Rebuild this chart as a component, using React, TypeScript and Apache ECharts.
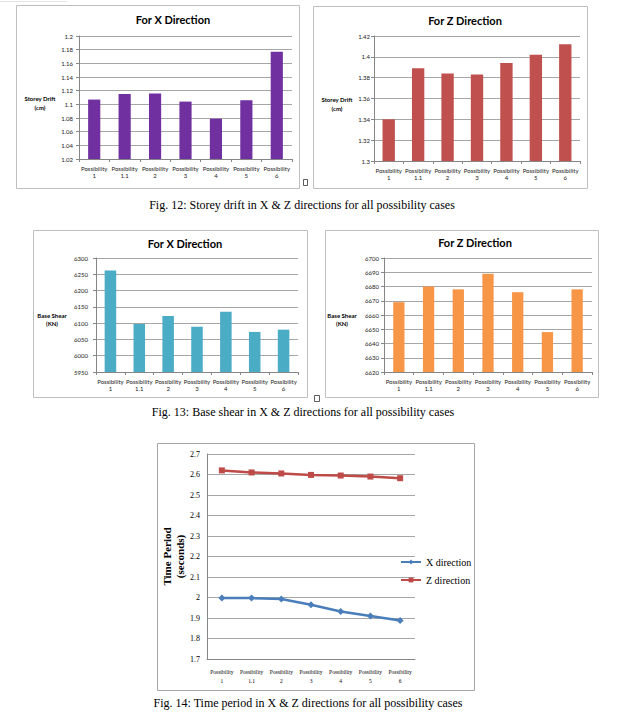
import React, { useEffect, useRef } from "react";
import * as echarts from "echarts";

const categories = [
  "Possibility\n1",
  "Possibility\n1.1",
  "Possibility\n2",
  "Possibility\n3",
  "Possibility\n4",
  "Possibility\n5",
  "Possibility\n6",
];
const driftX = [1.107, 1.115, 1.116, 1.104, 1.079, 1.106, 1.177];
const driftZ = [1.34, 1.389, 1.384, 1.383, 1.394, 1.402, 1.412];
const shearX = [6262, 6097, 6122, 6089, 6135, 6073, 6080];
const shearZ = [6669, 6680, 6678, 6689, 6676, 6648, 6678];
const periodX = [1.997, 1.997, 1.993, 1.965, 1.932, 1.91, 1.888];
const periodZ = [2.62, 2.61, 2.605, 2.598, 2.595, 2.59, 2.582];
const seriesNames = ["X direction", "Z direction"];
const chartTitles = ["For X Direction", "For Z Direction", "For X Direction", "For Z Direction"];
const yNames = ["Storey Drift", "(cm)", "Base Shear", "(KN)"];
const captions = [
  "Fig. 12: Storey drift in X & Z directions for all possibility cases",
  "Fig. 13: Base shear in X & Z directions for all possibility cases",
  "Fig. 14: Time period in X & Z directions for all possibility cases",
];
const timeAxisName = "Time Period\n(seconds)";

const SANS = "Lato, 'Open Sans', sans-serif";
const SERIF = "'Liberation Serif', 'DejaVu Serif', serif";
const GRID_C = "#A6A6A6";
const AXIS_C = "#868686";

const fmt = (v: number) => String(Number(v.toFixed(2)));

function barX(gi: number) {
  return {
    type: "category",
    gridIndex: gi,
    data: categories,
    axisLine: { lineStyle: { color: AXIS_C } },
    axisTick: { show: true, length: 3, lineStyle: { color: AXIS_C } },
    axisLabel: {
      interval: 0,
      fontFamily: SANS,
      fontSize: 6,
      lineHeight: 7,
      color: "#222",
      margin: 6,
    },
  };
}

function barY(gi: number, min: number, max: number, interval: number, margin: number) {
  return {
    type: "value",
    gridIndex: gi,
    min,
    max,
    interval,
    axisLine: { show: true, lineStyle: { color: AXIS_C } },
    axisTick: { show: true, length: 3, lineStyle: { color: AXIS_C } },
    splitLine: { lineStyle: { color: GRID_C } },
    axisLabel: { fontFamily: SANS, fontSize: 6, color: "#222", margin, formatter: fmt },
  };
}

export default function App() {
  const ref = useRef<HTMLDivElement>(null);
  useEffect(() => {
    if (!ref.current) return;
    const chart = echarts.init(ref.current, undefined, { renderer: "svg" });

    const box = (x: number, y: number, w: number, h: number, c = "#BFBFBF") => ({
      type: "rect",
      shape: { x: x + 0.5, y: y + 0.5, width: w, height: h },
      style: { fill: "#fff", stroke: c, lineWidth: 1 },
      z: -10,
    });
    const txt = (
      text: string,
      x: number,
      y: number,
      size: number,
      family: string,
      weight = "normal",
      align = "center"
    ) => ({
      type: "text",
      x,
      y,
      z: 10,
      style: {
        text,
        fontSize: size,
        fontFamily: family,
        fontWeight: weight,
        fill: "#000",
        align,
        verticalAlign: "middle",
      },
    });
    const tofu = (x: number, y: number, w: number, h: number) => ({
      type: "rect",
      shape: { x: x + 0.5, y: y + 0.5, width: w, height: h },
      style: { fill: "none", stroke: "#333", lineWidth: 0.8 },
      z: 10,
    });

    const option = {
      animation: false,
      backgroundColor: "#fff",
      grid: [
        { left: 79, top: 36, width: 213, height: 123 },
        { left: 374, top: 36, width: 206, height: 125 },
        { left: 96, top: 258, width: 202, height: 114 },
        { left: 384, top: 258, width: 208, height: 114 },
        { left: 207, top: 454, width: 208, height: 205 },
      ],
      xAxis: [
        barX(0),
        barX(1),
        barX(2),
        barX(3),
        {
          type: "category",
          gridIndex: 4,
          data: categories,
          axisLine: { lineStyle: { color: AXIS_C } },
          axisTick: { show: false },
          axisLabel: {
            interval: 0,
            fontFamily: SERIF,
            fontSize: 5.5,
            lineHeight: 9,
            color: "#000",
            margin: 8,
          },
        },
      ],
      yAxis: [
        barY(0, 1.02, 1.2, 0.02, 6),
        barY(1, 1.3, 1.42, 0.02, 4),
        barY(2, 5950, 6300, 50, 8),
        barY(3, 6620, 6700, 10, 5),
        {
          type: "value",
          gridIndex: 4,
          min: 1.7,
          max: 2.7,
          interval: 0.1,
          axisLine: { show: true, lineStyle: { color: AXIS_C } },
          axisTick: { show: false },
          splitLine: { lineStyle: { color: GRID_C } },
          axisLabel: { fontFamily: SERIF, fontSize: 8, color: "#000", margin: 7, formatter: fmt },
          name: timeAxisName,
          nameLocation: "middle",
          nameRotate: 90,
          nameGap: 19,
          nameTextStyle: {
            fontFamily: SERIF,
            fontWeight: "bold",
            fontSize: 11,
            lineHeight: 13,
            color: "#000",
          },
        },
      ],
      legend: {
        orient: "vertical",
        left: 395,
        top: 551,
        itemWidth: 20,
        itemHeight: 6,
        itemGap: 6,
        data: seriesNames,
        textStyle: { fontFamily: SERIF, fontSize: 10, color: "#000", lineHeight: 12 },
      },
      series: [
        {
          type: "bar",
          xAxisIndex: 0,
          yAxisIndex: 0,
          data: driftX,
          barWidth: "40%",
          itemStyle: { color: "#7030A0" },
        },
        {
          type: "bar",
          xAxisIndex: 1,
          yAxisIndex: 1,
          data: driftZ,
          barWidth: "42%",
          itemStyle: { color: "#C0504D" },
        },
        {
          type: "bar",
          xAxisIndex: 2,
          yAxisIndex: 2,
          data: shearX,
          barWidth: "40%",
          itemStyle: { color: "#4BACC6" },
        },
        {
          type: "bar",
          xAxisIndex: 3,
          yAxisIndex: 3,
          data: shearZ,
          barWidth: "38%",
          itemStyle: { color: "#F79646" },
        },
        {
          name: seriesNames[0],
          type: "line",
          xAxisIndex: 4,
          yAxisIndex: 4,
          data: periodX,
          symbol: "diamond",
          symbolSize: 7,
          lineStyle: { color: "#4A7EBB", width: 2.5 },
          itemStyle: { color: "#4A7EBB" },
        },
        {
          name: seriesNames[1],
          type: "line",
          xAxisIndex: 4,
          yAxisIndex: 4,
          data: periodZ,
          symbol: "rect",
          symbolSize: 6,
          lineStyle: { color: "#BE4B48", width: 2.5 },
          itemStyle: { color: "#BE4B48" },
        },
      ],
      graphic: [
        {
          type: "line",
          shape: { x1: 0, y1: 1.5, x2: 67, y2: 1.5 },
          style: { stroke: "#E4E4E4", lineWidth: 1 },
          z: -10,
        },
        box(16, 5, 283, 183),
        box(313, 6, 274, 182),
        box(33, 230, 274, 167),
        box(325, 230, 273, 167),
        box(157, 443, 317, 247, "#A6A6A6"),
        txt(chartTitles[0], 173, 19, 11, SANS, "bold"),
        txt(chartTitles[1], 465, 20, 11, SANS, "bold"),
        txt(chartTitles[2], 185, 243, 11, SANS, "bold"),
        txt(chartTitles[3], 475, 242, 11, SANS, "bold"),
        txt(yNames[0], 40, 98, 6, SANS, "bold"),
        txt(yNames[1], 40, 107, 6, SANS, "bold"),
        txt(yNames[0], 337, 99, 6, SANS, "bold"),
        txt(yNames[1], 337, 108, 6, SANS, "bold"),
        txt(yNames[2], 52, 315, 6, SANS, "bold"),
        txt(yNames[3], 52, 323, 6, SANS, "bold"),
        txt(yNames[2], 342, 315, 6, SANS, "bold"),
        txt(yNames[3], 342, 323, 6, SANS, "bold"),
        txt(captions[0], 302, 205, 12, SERIF),
        txt(captions[1], 303, 412, 12, SERIF),
        txt(captions[2], 308, 703, 12, SERIF),
        tofu(303, 179, 4, 6),
        tofu(314, 395, 5, 6),
      ],
    };
    chart.setOption(option as any);
    return () => chart.dispose();
  }, []);
  return (
    <div
      ref={ref}
      style={{ position: "absolute", left: 0, top: 0, width: 621, height: 712 }}
    />
  );
}
